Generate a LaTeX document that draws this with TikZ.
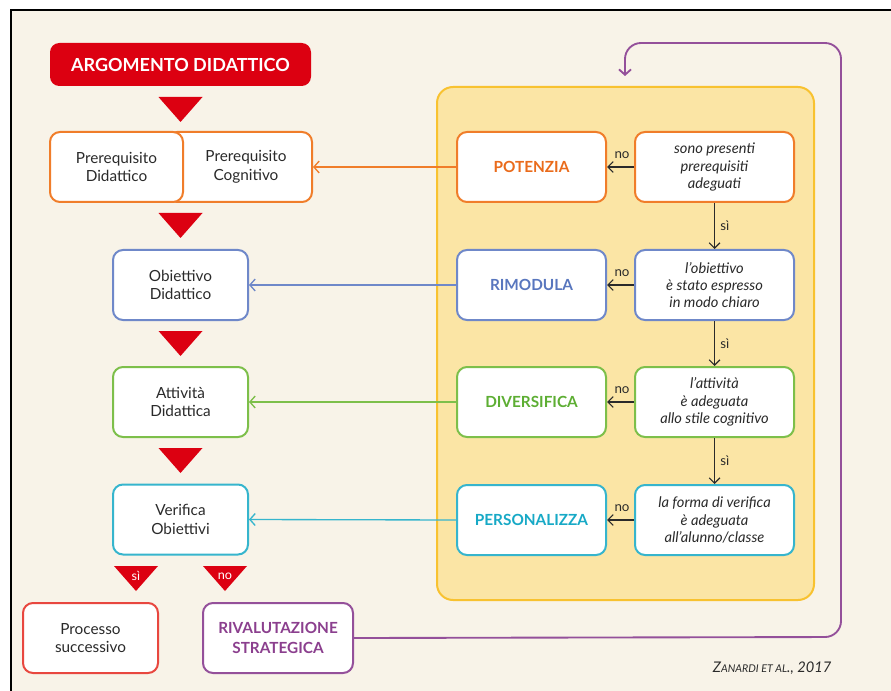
\documentclass[tikz,border=0pt]{standalone}
\usepackage{fontspec}
\setmainfont{Lato}
\usetikzlibrary{arrows.meta}

\definecolor{cream}{HTML}{F8F3E8}
\definecolor{argred}{HTML}{DC0011}
\definecolor{cOrange}{HTML}{F07D2A}
\definecolor{tOrange}{HTML}{EA6B1B}
\definecolor{cBlue}{HTML}{6F88C9}
\definecolor{tBlue}{HTML}{5876BE}
\definecolor{cGreen}{HTML}{7DBF4A}
\definecolor{tGreen}{HTML}{5DAE33}
\definecolor{cCyan}{HTML}{36B5CD}
\definecolor{tCyan}{HTML}{17A9C6}
\definecolor{cPurple}{HTML}{94509A}
\definecolor{tPurple}{HTML}{8B3F8E}
\definecolor{cRed}{HTML}{E8473F}
\definecolor{panelfill}{HTML}{FBE5A5}
\definecolor{panelline}{HTML}{F8C230}
\definecolor{ink}{HTML}{2A2A2A}

\tikzset{
  box/.style={draw, fill=white, line width=1.5pt, rounded corners=7.5pt,
    minimum height=52.5pt, align=center, text=ink,
    font=\fontsize{11.5}{14}\selectfont},
  action/.style={box, minimum width=149*0.75pt,
    font=\fontsize{11.5}{14}\selectfont\bfseries},
  question/.style={box, minimum width=159*0.75pt,
    font=\fontsize{11}{13}\selectfont\itshape},
  mainbox/.style={box, minimum width=135*0.75pt},
  link/.style={line width=1pt, -{Straight Barb[length=4pt,width=9pt]}},
  flowarr/.style={line width=0.9pt, draw=ink, -{Straight Barb[length=4pt,width=8pt]}},
  lbl/.style={font=\fontsize{10}{11}\selectfont, text=ink, inner sep=1pt},
  redtri/.style={fill=argred},
  trilbl/.style={font=\fontsize{9.5}{10}\selectfont, text=white},
}

\begin{document}
\begin{tikzpicture}[x=0.75pt,y=-0.75pt]
% page and frame
\fill[white] (0,0) rectangle (891,691);
\useasboundingbox (0,0) rectangle (891,691);
\fill[cream] (11,10) rectangle (891,691);
\draw[line width=2.2pt, black] (11,691) -- (11,10) -- (891,10);

% panel holding the checks
\draw[fill=panelfill, draw=panelline, line width=1.5pt, rounded corners=12pt]
  (437,87) rectangle (814,600);

% heading
\node[fill=argred, rounded corners=7pt, minimum width=261*0.75pt,
  minimum height=43*0.75pt, text=white,
  font=\fontsize{13.5}{15}\selectfont\bfseries] (arg) at (180.5,64.5)
  {ARGOMENTO DIDATTICO};

% left column
\node[mainbox, draw=cOrange, minimum width=145*0.75pt] (cogn) at (239.5,167) {};
\node[align=center, text=ink, font=\fontsize{11.5}{14}\selectfont]
  (cogntext) at (246,167) {Prerequisito\\Cognitivo};
\node[mainbox, draw=cOrange, minimum width=133*0.75pt] (didpre) at (116.5,167)
  {Prerequisito\\Didattico};
\node[mainbox, draw=cBlue] (obj) at (180.5,285) {Obiettivo\\Didattico};
\node[mainbox, draw=cGreen] (att) at (180.5,402) {Attività\\Didattica};
\node[mainbox, draw=cCyan] (ver) at (180.5,519.5) {Verifica\\Obiettivi};
\node[mainbox, draw=cRed] (proc) at (90.5,638) {Processo\\successivo};
\node[mainbox, draw=cPurple, minimum width=150*0.75pt, text=tPurple,
  font=\fontsize{11.5}{14.5}\selectfont\bfseries] (rival) at (278,638)
  {RIVALUTAZIONE\\STRATEGICA};

% red arrow heads of the main chain
\foreach \t in {97,213,331,448}
  \fill[redtri] (158.5,\t) -- (202.5,\t) -- (180.5,\t+25) -- cycle;
\fill[redtri] (114,566) -- (158,566) -- (136,591) -- cycle;
\fill[redtri] (203,566) -- (247,566) -- (225,591) -- cycle;
\node[trilbl] (yesmark) at (136,576) {sì};
\node[trilbl] (nomark) at (225,576) {no};

% actions
\node[action, draw=cOrange, text=tOrange] (pot) at (531.5,167) {POTENZIA};
\node[action, draw=cBlue, text=tBlue] (rim) at (531.5,285) {RIMODULA};
\node[action, draw=cGreen, text=tGreen] (div) at (531.5,402) {DIVERSIFICA};
\node[action, draw=cCyan, text=tCyan] (pers) at (531.5,520) {PERSONALIZZA};

% checks
\node[question, draw=cOrange] (q1) at (714.5,167)
  {sono presenti\\prerequisiti\\adeguati};
\node[question, draw=cBlue] (q2) at (714.5,285)
  {l’obiettivo\\è stato espresso\\in modo chiaro};
\node[question, draw=cGreen] (q3) at (714.5,402)
  {l’attività\\è adeguata\\allo stile cognitivo};
\node[question, draw=cCyan] (q4) at (714.5,520)
  {la forma di verifica\\è adeguata\\all’alunno/classe};

% no branches
\foreach \q/\a/\y in {q1/pot/167, q2/rim/285, q3/div/402, q4/pers/520} {
  \draw[flowarr] (\q.west) -- (\a.east);
  \node[lbl] at (622,\y-12) {no};
}
% yes branches
\draw[flowarr] (q1.south) -- node[lbl, right=3pt] {sì} (q2.north);
\draw[flowarr] (q2.south) -- node[lbl, right=3pt] {sì} (q3.north);
\draw[flowarr] (q3.south) -- node[lbl, right=3pt] {sì} (q4.north);

% feedback to the left column
\draw[link, cOrange] (pot.west) -- (cogn.east);
\draw[link, cBlue] (rim.west) -- (obj.east);
\draw[link, cGreen] (div.west) -- (att.east);
\draw[link, cCyan] (pers.west) -- (ver.east);

% strategic loop back to the checks
\coordinate (loopend) at (625,76);
\draw[link, cPurple, line width=1.4pt, rounded corners=12pt]
  (rival.east) -- (841,637) -- (841,43) -- (625,43) -- (loopend);

% source
\node[anchor=east, text=ink, font=\itshape] (src) at (836,668)
  {{\fontsize{11}{12}\selectfont Z}{\fontsize{8}{12}\selectfont ANARDI ET AL}{\fontsize{11}{12}\selectfont ., 2017}};
\end{tikzpicture}
\end{document}
